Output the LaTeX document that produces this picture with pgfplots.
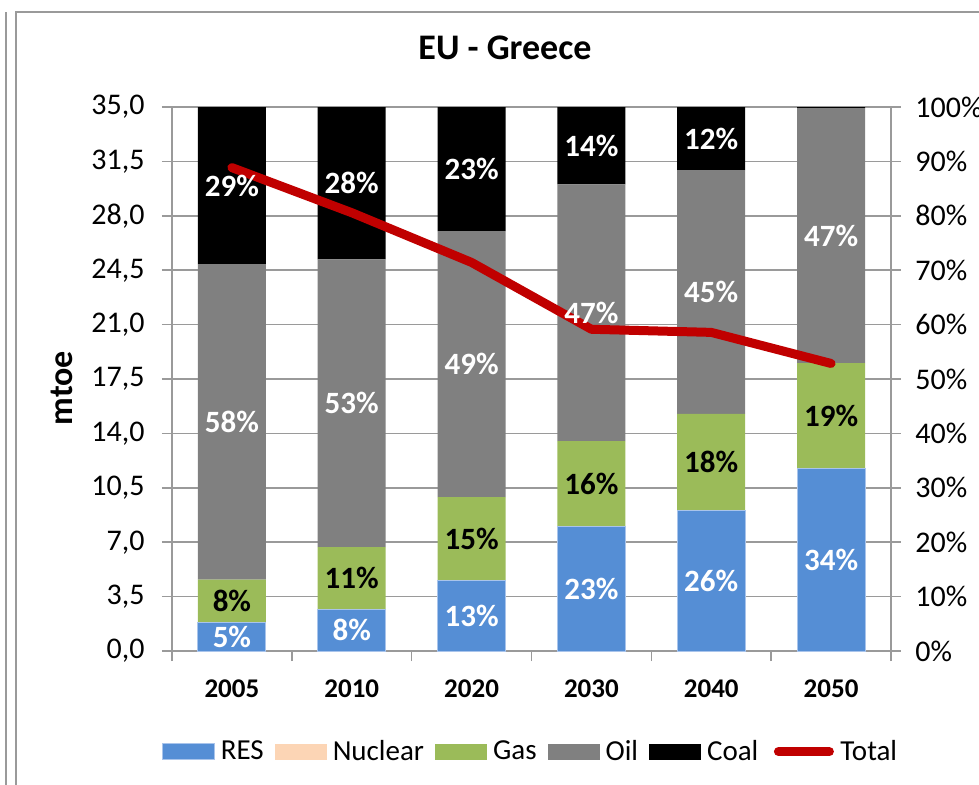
\documentclass[border=0pt]{standalone}
\usepackage{pgfplots}
\pgfplotsset{compat=1.18}
\usepackage{pgfplotstable}
\usepackage{fontspec}
\setmainfont{Carlito}
\definecolor{cRES}{HTML}{558ED5}
\definecolor{cRESb}{HTML}{A9C4EB}
\definecolor{cNuc}{HTML}{FCD5B5}
\definecolor{cGas}{HTML}{9BBB59}
\definecolor{cOil}{HTML}{808080}
\definecolor{cTot}{HTML}{C00000}
\definecolor{cGrid}{HTML}{9A9A9A}

\pgfplotstableread{
x RES Nuc Gas Oil Coal Total lRES lGas lOil lCoal
0 5.3 0 7.8 58.0 28.9 31.1 5 8 58 29
1 7.7 0 11.4 52.9 28.0 28.2 8 11 53 28
2 13.0 0 15.3 48.9 22.8 25.0 13 15 49 23
3 22.8 0 15.8 47.2 14.2 20.7 23 16 47 14
4 25.9 0 17.7 44.8 11.6 20.5 26 18 45 12
5 33.5 0 19.4 46.9 0.2 18.5 34 19 47 0
}\datatable

\pgfplotsset{
  barleg/.style={legend image code/.code={\path[##1] (0pt,-4pt) rectangle (26pt,4pt); \path (27pt,0pt);}},
  totleg/.style={legend image code/.code={\draw[##1] (2.25pt,0pt) -- (27.75pt,0pt); \path (0pt,0pt) (29pt,0pt);}},
  commonax/.style={scale only axis, width=359.5pt, height=272pt, xmin=-0.5, xmax=5.5,
    at={(0pt,0pt)}, anchor=south west},
  lab/.style={draw=none, mark=none, nodes near coords={\pgfplotspointmeta\%}, point meta=explicit symbolic,
    every node near coord/.append style={anchor=center, font=\fontsize{15.5}{17}\selectfont\bfseries}},
}

\begin{document}
\begin{tikzpicture}
% bars (right axis)
\begin{axis}[commonax, ybar stacked, bar width=34pt, ymin=0, ymax=100,
  axis x line*=bottom, axis y line*=right,
  axis line style={cGrid, line width=0.75pt},
  ytick={0,10,...,100},
  yticklabel={\pgfmathprintnumber[assume math mode=true]{\tick}\%},
  ticklabel style={font=\fontsize{15}{16}\selectfont},
  yticklabel style={anchor=west, inner sep=0pt, xshift=7pt},
  xtick={0,1,2,3,4,5}, xticklabels={2005,2010,2020,2030,2040,2050},
  major x tick style={draw=none},
  minor xtick={-0.5,0.5,1.5,2.5,3.5,4.5,5.5},
  tick align=outside, major tick length=5pt, minor tick length=5pt,
  tick style={cGrid, line width=0.75pt},
  ymajorgrids, grid style={cGrid, line width=0.75pt},
  xticklabel style={font=\fontsize{13.5}{15}\selectfont\bfseries, inner sep=0pt, anchor=north, yshift=-9pt},
  legend columns=6,
  legend style={draw=none, fill=none, at={(0.5,-0.185)}, anchor=center,
    font=\fontsize{14.5}{16}\selectfont,
    /tikz/every even column/.append style={column sep=3.5pt}},
]
\addplot[fill=cRES, draw=cRESb, line width=0.5pt, barleg] table[x=x,y=RES]{\datatable};
\addlegendentry{RES}
\addplot[fill=cNuc, draw=none, barleg] table[x=x,y=Nuc]{\datatable};
\addlegendentry{Nuclear}
\addplot[fill=cGas, draw=none, barleg] table[x=x,y=Gas]{\datatable};
\addlegendentry{Gas}
\addplot[fill=cOil, draw=none, barleg] table[x=x,y=Oil]{\datatable};
\addlegendentry{Oil}
\addplot[fill=black, draw=none, barleg] table[x=x,y=Coal]{\datatable};
\addlegendentry{Coal}
\addlegendimage{totleg, cTot, line width=4.5pt, line cap=round}
\addlegendentry{Total}
\end{axis}
% line (left axis)
\begin{axis}[commonax, ymin=0, ymax=35, axis y line*=left, axis x line=none,
  ytick={0,3.5,7,10.5,14,17.5,21,24.5,28,31.5,35},
  axis line style={cGrid, line width=0.75pt},
  tick align=outside, major tick length=5pt,
  tick style={cGrid, line width=0.75pt},
  ticklabel style={font=\fontsize{15}{16}\selectfont},
  yticklabel style={anchor=east, inner sep=0pt, xshift=-8.5pt, /pgf/number format/.cd, fixed, fixed zerofill, precision=1, use comma, assume math mode=true},
]
\addplot[cTot, line width=4.5pt, line join=round, line cap=round] table[x=x,y=Total]{\datatable};
\end{axis}
% labels
\begin{axis}[commonax, ymin=0, ymax=100, hide axis]
\addplot[lab, every node near coord/.append style={text=white}] table[x=x, y expr=\thisrow{RES}/2, meta=lRES]{\datatable};
\addplot[lab, every node near coord/.append style={text=black}] table[x=x, y expr=\thisrow{RES}+\thisrow{Gas}/2, meta=lGas]{\datatable};
\addplot[lab, every node near coord/.append style={text=white}] table[x=x, y expr=\thisrow{RES}+\thisrow{Gas}+\thisrow{Oil}/2, meta=lOil]{\datatable};
\addplot[lab, skip coords between index={5}{6}, every node near coord/.append style={text=white}] table[x=x, y expr=\thisrow{RES}+\thisrow{Gas}+\thisrow{Oil}+\thisrow{Coal}/2, meta=lCoal]{\datatable};
\end{axis}
\node[font=\fontsize{18}{20}\selectfont\bfseries] at (166.5pt,301.5pt) {EU - Greece};
\node[rotate=90, font=\fontsize{17}{19}\selectfont\bfseries] at (-55pt,131.5pt) {mtoe};
\draw[cGrid, line width=0.75pt] (-78pt,-80pt) -- (-78pt,319.5pt) -- (420pt,319.5pt);
\draw[cGrid, line width=0.75pt] (-83pt,-80pt) -- (-83pt,319.5pt);
\pgfresetboundingbox
\path[use as bounding box] (-86pt,-66.5pt) rectangle (403.5pt,325.5pt);
\end{tikzpicture}
\end{document}
